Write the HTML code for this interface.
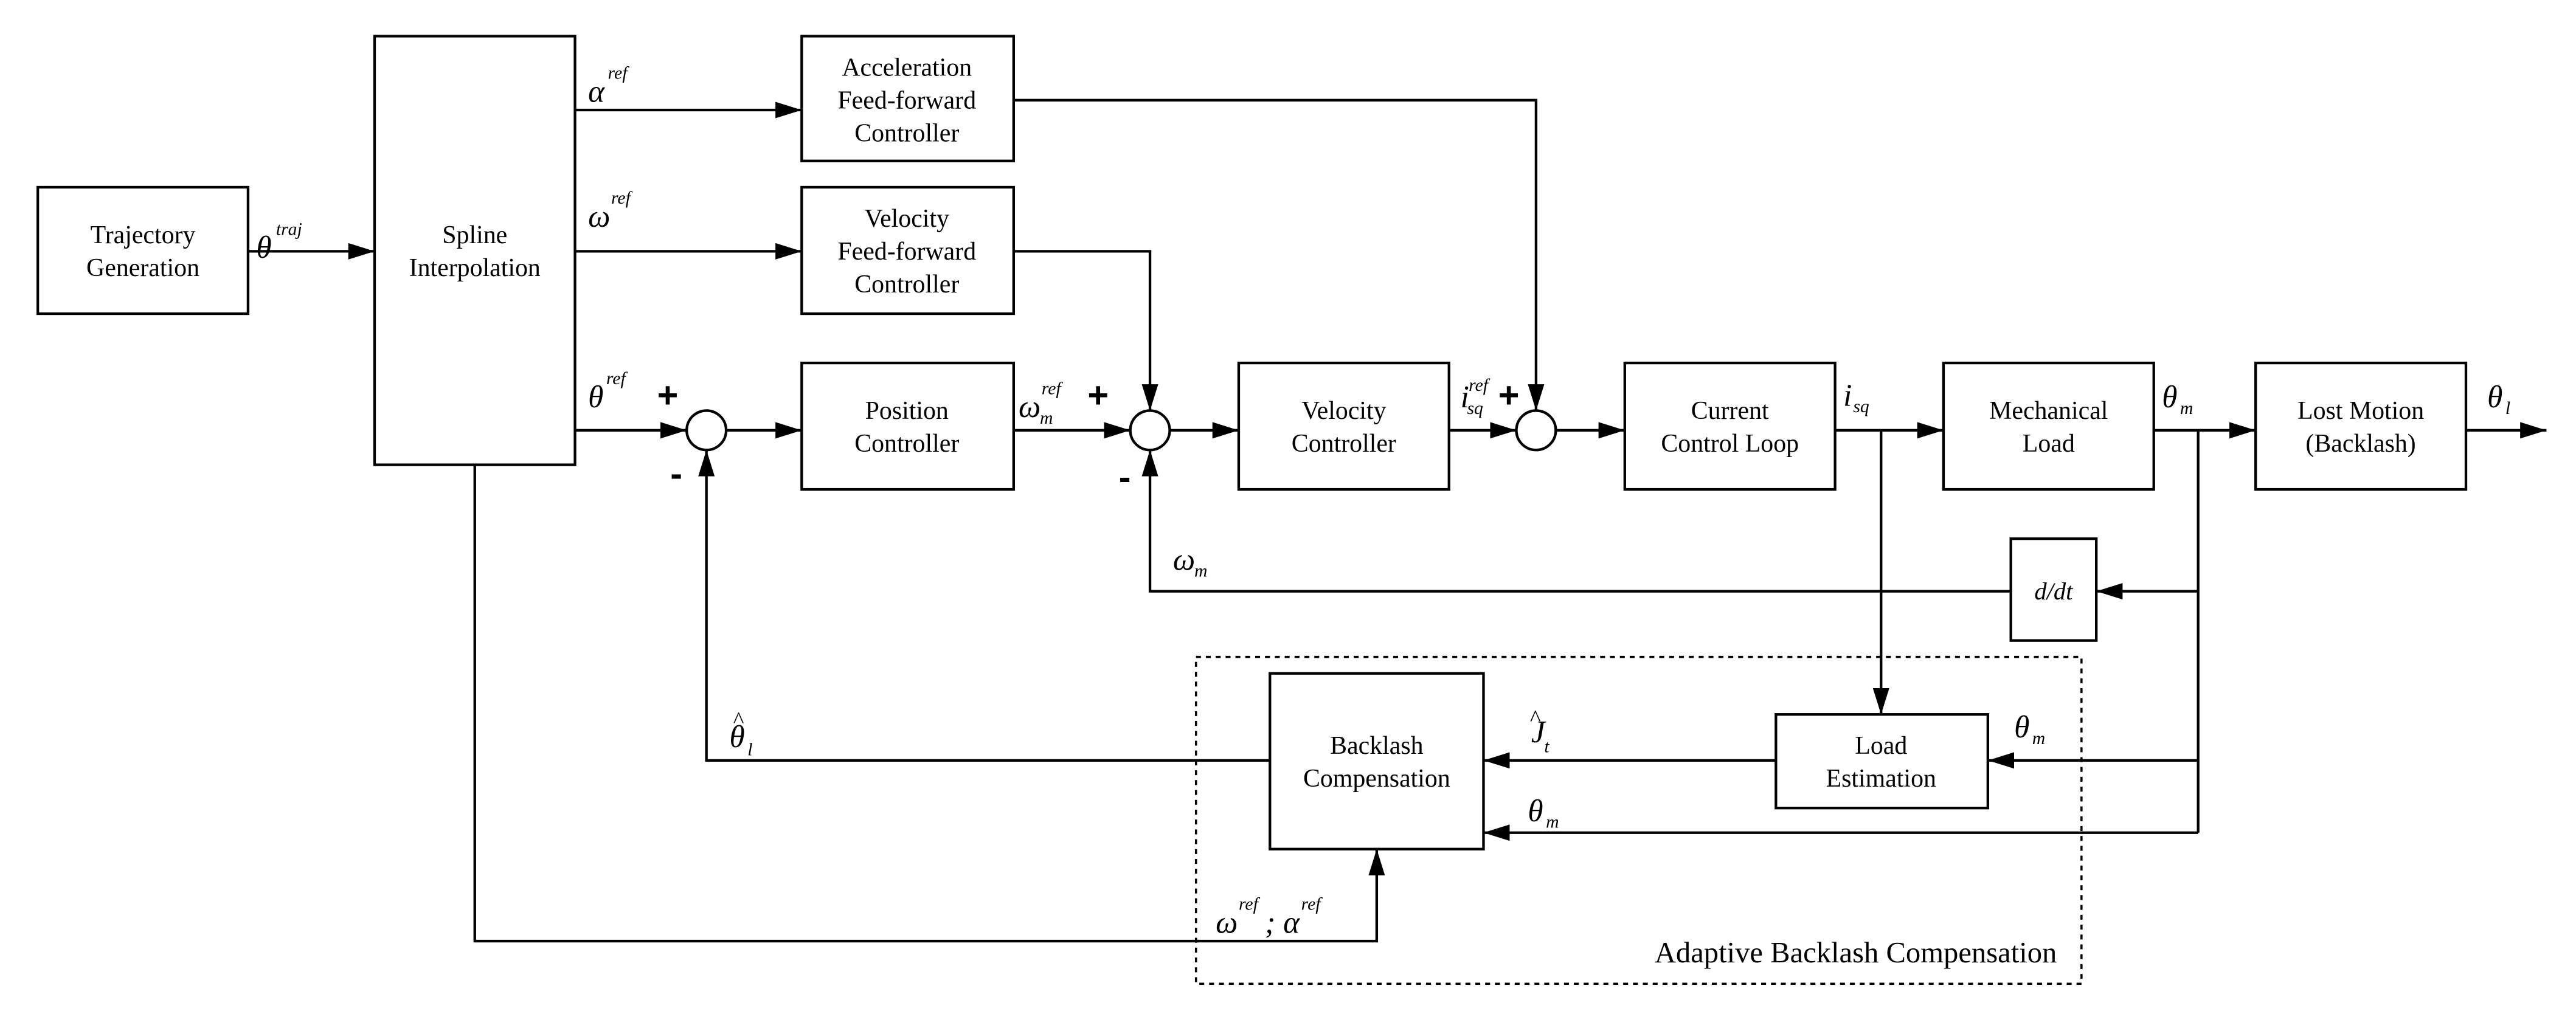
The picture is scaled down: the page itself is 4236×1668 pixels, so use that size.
<!DOCTYPE html>
<html><head><meta charset="utf-8">
<style>html,body{margin:0;padding:0;background:#fff;}svg{display:block;}
svg, svg text{font-family:"Liberation Serif","DejaVu Serif","Times New Roman",serif;}
svg text.pm{font-family:"Liberation Sans",sans-serif;font-weight:bold;}
</style>
</head><body>
<svg width="4236" height="1668" viewBox="0 0 1568 617.4" preserveAspectRatio="none" xmlns="http://www.w3.org/2000/svg" style="font-family:'Liberation Serif','DejaVu Serif',serif">
<defs>
<marker id="a" markerWidth="16" markerHeight="10" refX="16" refY="5" orient="auto" markerUnits="userSpaceOnUse">
<path d="M0,0 L16,5 L0,10 Z" fill="#000"/></marker>
</defs>
<g fill="none" stroke="#000" stroke-width="1.6">
<rect x="23" y="114" width="128" height="77"/>
<rect x="228" y="22" width="122" height="261"/>
<rect x="488" y="22" width="129" height="76"/>
<rect x="488" y="114" width="129" height="77"/>
<rect x="488" y="221" width="129" height="77"/>
<rect x="754" y="221" width="128" height="77"/>
<rect x="989" y="221" width="128" height="77"/>
<rect x="1183" y="221" width="128" height="77"/>
<rect x="1373" y="221" width="128" height="77"/>
<rect x="1224" y="328" width="52" height="62"/>
<rect x="1081" y="435" width="129" height="57"/>
<rect x="773" y="410" width="130" height="107"/>
<circle cx="430" cy="262" r="12"/>
<circle cx="700" cy="262" r="12"/>
<circle cx="935" cy="262" r="12"/>
<rect x="728" y="400" width="539" height="199" stroke-dasharray="3,3" stroke-width="1.3"/>
<path d="M151,153 H228" marker-end="url(#a)"/>
<path d="M350,67 H488" marker-end="url(#a)"/>
<path d="M350,153 H488" marker-end="url(#a)"/>
<path d="M350,262 H418" marker-end="url(#a)"/>
<path d="M442,262 H488" marker-end="url(#a)"/>
<path d="M617,262 H688" marker-end="url(#a)"/>
<path d="M712,262 H754" marker-end="url(#a)"/>
<path d="M882,262 H923" marker-end="url(#a)"/>
<path d="M947,262 H989" marker-end="url(#a)"/>
<path d="M1117,262 H1183" marker-end="url(#a)"/>
<path d="M1311,262 H1373" marker-end="url(#a)"/>
<path d="M1501,262 H1550" marker-end="url(#a)"/>
<path d="M617,61 H935 V250" marker-end="url(#a)"/>
<path d="M617,153 H700 V250" marker-end="url(#a)"/>
<path d="M1145,262 V435" marker-end="url(#a)"/>
<path d="M1338,262 V507"/>
<path d="M1338,360 H1276" marker-end="url(#a)"/>
<path d="M1224,360 H700 V274" marker-end="url(#a)"/>
<path d="M1338,463 H1210" marker-end="url(#a)"/>
<path d="M1081,463 H903" marker-end="url(#a)"/>
<path d="M1338,507 H903" marker-end="url(#a)"/>
<path d="M773,463 H430 V274" marker-end="url(#a)"/>
<path d="M289,283 V573 H838 V517" marker-end="url(#a)"/>
</g>
<g font-size="15.5" text-anchor="middle" fill="#000">
<text x="87" y="148">Trajectory</text><text x="87" y="168">Generation</text>
<text x="289" y="148">Spline</text><text x="289" y="168">Interpolation</text>
<text x="552" y="46">Acceleration</text><text x="552" y="66">Feed-forward</text><text x="552" y="86">Controller</text>
<text x="552" y="138">Velocity</text><text x="552" y="158">Feed-forward</text><text x="552" y="178">Controller</text>
<text x="552" y="255">Position</text><text x="552" y="275">Controller</text>
<text x="818" y="255">Velocity</text><text x="818" y="275">Controller</text>
<text x="1053" y="255">Current</text><text x="1053" y="275">Control Loop</text>
<text x="1247" y="255">Mechanical</text><text x="1247" y="275">Load</text>
<text x="1437" y="255">Lost Motion</text><text x="1437" y="275">(Backlash)</text>
<text x="1145" y="459">Load</text><text x="1145" y="479">Estimation</text>
<text x="838" y="459">Backlash</text><text x="838" y="479">Compensation</text>
<text x="1250" y="365" font-style="italic" font-size="15">d/dt</text>
</g>
<g font-size="19" font-style="italic" fill="#000">
<text x="156" y="157">θ</text><text x="168" y="143" font-size="11">traj</text>
<text x="358" y="62">α</text><text x="370" y="48" font-size="11">ref</text>
<text x="358" y="138">ω</text><text x="372" y="124" font-size="11">ref</text>
<text x="358" y="248">θ</text><text x="369" y="234" font-size="11">ref</text>
<text x="620" y="254">ω</text><text x="634" y="240" font-size="11">ref</text><text x="633" y="258" font-size="11">m</text>
<text x="889" y="248">i</text><text x="894" y="238" font-size="11">ref</text><text x="893" y="252" font-size="11">sq</text>
<text x="1122" y="247">i</text><text x="1128" y="251" font-size="11">sq</text>
<text x="1316" y="248">θ</text><text x="1327" y="252" font-size="11">m</text>
<text x="1514" y="248">θ</text><text x="1525" y="252" font-size="11">l</text>
<text x="714" y="347">ω</text><text x="727" y="351" font-size="11">m</text>
<text x="1226" y="449">θ</text><text x="1237" y="453" font-size="11">m</text>
<text x="930" y="500">θ</text><text x="941" y="504" font-size="11">m</text>
<text x="932" y="452">J</text><text x="931" y="442" font-size="14">^</text><text x="940" y="458" font-size="11">t</text>
<text x="444" y="455">θ</text><text x="446" y="443" font-size="14">^</text><text x="455" y="460" font-size="11">l</text>
<text x="740" y="568">ω</text><text x="754" y="554" font-size="11">ref</text><text x="770" y="568">; α</text><text x="792" y="554" font-size="11">ref</text>
</g>
<g font-size="22" fill="#000">
<text class="pm" x="400" y="248">+</text><text class="pm" x="662" y="248">+</text><text class="pm" x="912" y="248">+</text>
<text class="pm" x="408" y="296">-</text><text class="pm" x="681" y="298">-</text>
</g>
<text x="1252" y="586" font-size="18" text-anchor="end" fill="#000">Adaptive Backlash Compensation</text>
</svg>
</body></html>
